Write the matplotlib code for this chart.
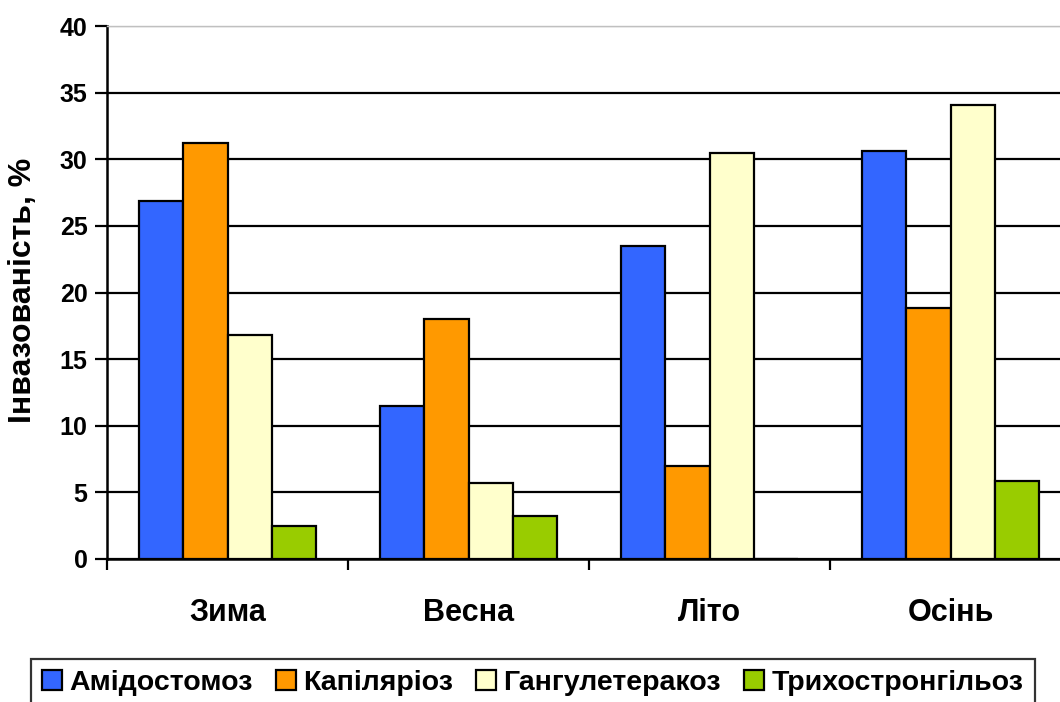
import numpy as np
import matplotlib
matplotlib.use("Agg")
import matplotlib.pyplot as plt

plt.rcParams['font.family'] = ['Liberation Sans', 'DejaVu Sans']
plt.rcParams['font.weight'] = 'bold'

# Дані
seasons = ['Зима', 'Весна', 'Літо', 'Осінь']
series = ['Амідостомоз', 'Капіляріоз', 'Гангулетеракоз', 'Трихостронгільоз']
amidostomoz = [26.9, 11.5, 23.5, 30.6]
kapiliarioz = [31.2, 18.0, 7.0, 18.8]
hanhuleterakoz = [16.8, 5.7, 30.5, 34.1]
trykhostronhiloz = [2.5, 3.2, 0.0, 5.85]
colors = ['#3366FF', '#FF9900', '#FFFFCC', '#99CC00']

fig = plt.figure(figsize=(10.6, 7.02), dpi=100)
ax = fig.add_axes([107/1060, (702-559)/702, (1071-107)/1060, (559-26)/702])

x = np.arange(len(seasons)) + 0.5
w = 0.1826
values = [amidostomoz, kapiliarioz, hanhuleterakoz, trykhostronhiloz]
for i, (vals, c, name) in enumerate(zip(values, colors, series)):
    ax.bar(x + (i - 1.5)*w, vals, w, color=c, edgecolor='black',
           linewidth=1.6, label=name, zorder=3)

ax.set_xlim(0, 4)
ax.set_ylim(0, 40)
ax.set_yticks(np.arange(0, 41, 5))
ax.yaxis.grid(True, color='black', linewidth=1.6, zorder=0)
ax.get_ygridlines()[-1].set_color('#c0c0c0')
ax.get_ygridlines()[-1].set_linewidth(1.0)
ax.set_axisbelow(True)

ax.set_xticks([0, 1, 2, 3, 4])
ax.set_xticklabels([])
ax.set_xticks(x, minor=True)
ax.set_xticklabels(seasons, minor=True, fontsize=22, fontweight='bold')
ax.tick_params(axis='x', which='minor', length=0, pad=28)
ax.tick_params(axis='x', which='major', length=8, width=1.6, direction='out')
ax.tick_params(axis='y', length=9, width=1.6, labelsize=18, pad=5)

for s in ['left', 'bottom']:
    ax.spines[s].set_linewidth(1.8)
ax.spines['top'].set_color('#c0c0c0')
ax.spines['top'].set_linewidth(1.0)
ax.spines['right'].set_visible(False)

fig.text(23/1060, 1 - 290/702, 'Інвазованість, %', rotation=90, fontsize=23,
         fontweight='bold', ha='center', va='center')

leg = fig.legend(loc='upper left', bbox_to_anchor=(31/1060, 1 - 659/702), ncol=4,
                 fontsize=20.5, frameon=True, fancybox=False, edgecolor='black',
                 handlelength=0.7, handleheight=0.7, handletextpad=0.25,
                 columnspacing=0.82, borderpad=0.4, borderaxespad=0)
leg.get_frame().set_linewidth(1.6)

fig.savefig('out.png', dpi=100)
